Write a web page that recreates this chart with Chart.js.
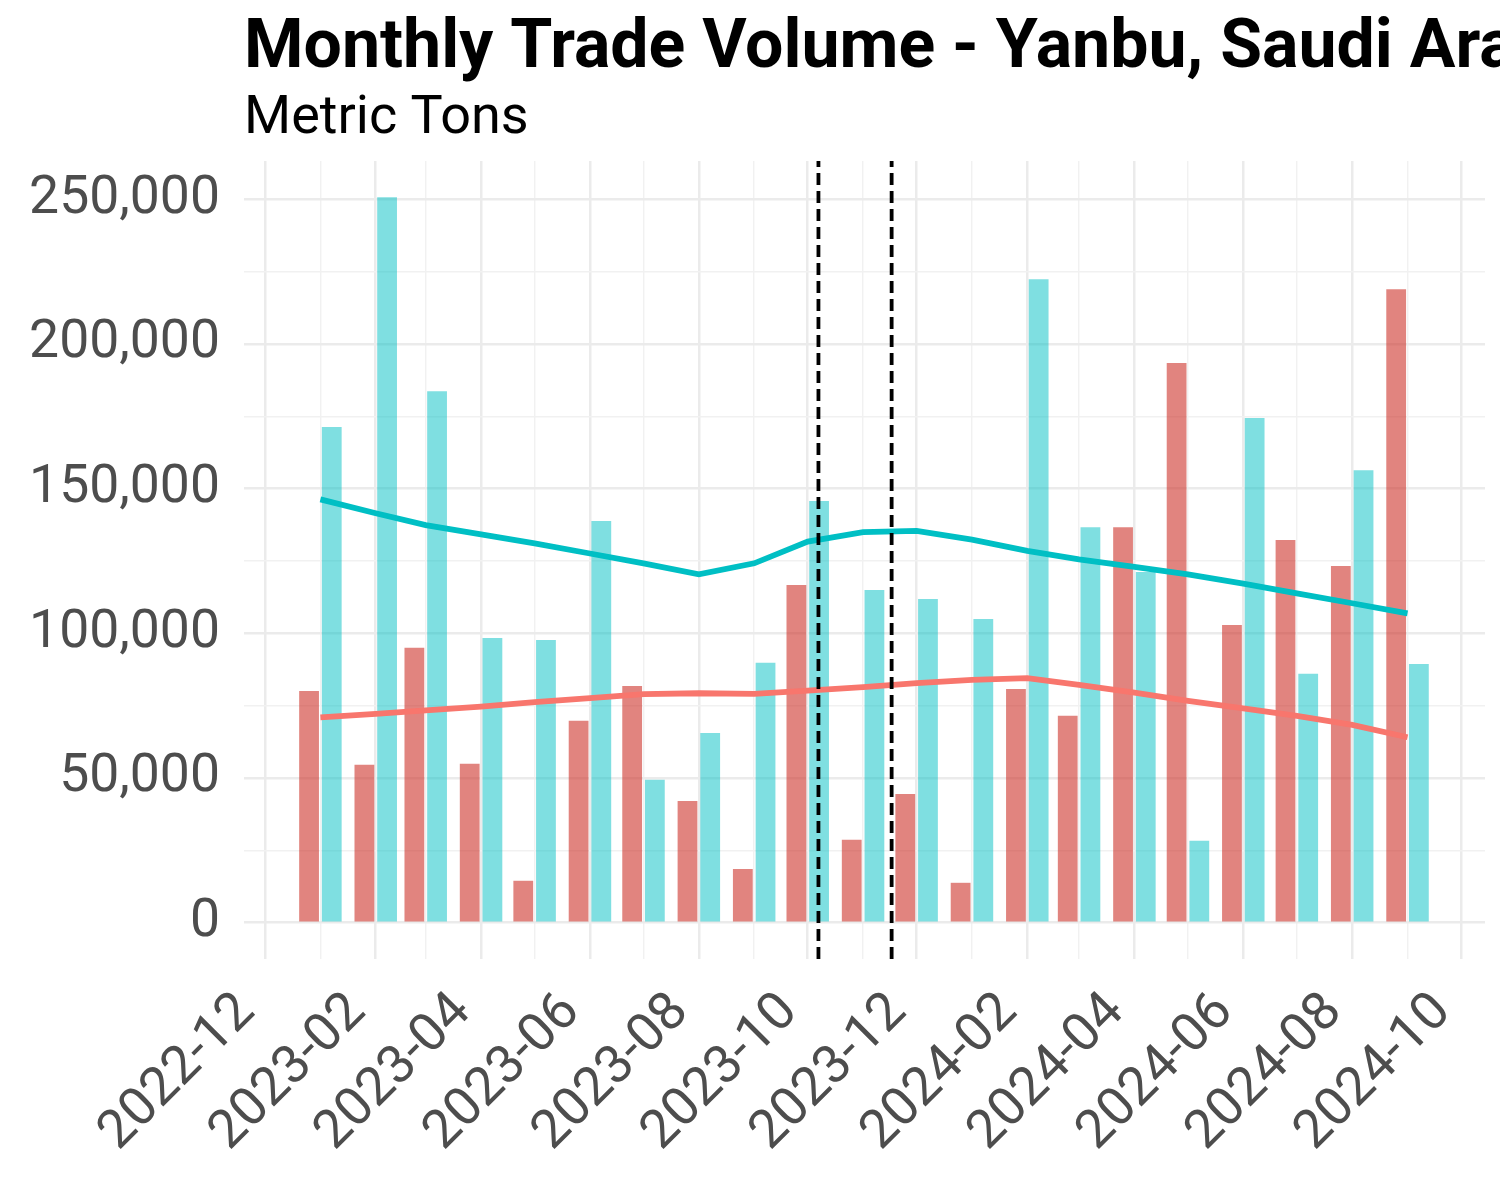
<!DOCTYPE html>
<html>
<head>
<meta charset="utf-8">
<title>Monthly Trade Volume - Yanbu</title>
<script src="https://cdn.jsdelivr.net/npm/chart.js"></script>
<style>
  html, body { margin: 0; padding: 0; background: #fff; }
  #chart { display: block; }
</style>
</head>
<body>
<canvas id="chart" width="1500" height="1200"></canvas>
<script>
const titleText = 'Monthly Trade Volume - Yanbu, Saudi Arabia';
const subtitleText = 'Metric Tons';

// one bar pair per month, dated on the 1st
const months = [
  '2023-01', '2023-02', '2023-03', '2023-04', '2023-05', '2023-06', '2023-07',
  '2023-08', '2023-09', '2023-10', '2023-11', '2023-12', '2024-01', '2024-02',
  '2024-03', '2024-04', '2024-05', '2024-06', '2024-07', '2024-08', '2024-09'
];
const exportTons = [
  80100, 54600, 95000, 54900, 14500, 69800, 81800,
  42100, 18600, 116700, 28700, 44500, 13800, 80800,
  71500, 136700, 193400, 102900, 132300, 123300, 218900
];
const importTons = [
  171300, 250700, 183700, 98400, 97700, 138800, 49400,
  65600, 89800, 145700, 115000, 111900, 105000, 222400,
  136700, 121200, 28300, 174400, 86000, 156400, 89400
];
// smoothed trend per month
const exportTrend = [
  71000, 72200, 73400, 74700, 76200, 77600, 79000,
  79300, 79100, 80200, 81400, 82800, 83900, 84500,
  82200, 79500, 76700, 74100, 71500, 68400, 64100
];
const importTrend = [
  146300, 141500, 137400, 134200, 131100, 127600, 124200,
  120400, 124200, 131700, 135000, 135400, 132400, 128500,
  125600, 123000, 120400, 117200, 113800, 110400, 106900
];
const eventDates = ['2023-10-07', '2023-11-17'];

const xTickLabels = [
  '2022-12', '2023-02', '2023-04', '2023-06', '2023-08', '2023-10',
  '2023-12', '2024-02', '2024-04', '2024-06', '2024-08', '2024-10'
];
const yTickLabels = [0, 50000, 100000, 150000, 200000, 250000];
const yLimits = [-12535, 263235];

const toDay = (s) => Date.UTC(+s.slice(0, 4), +s.slice(5, 7) - 1, s.length > 7 ? +s.slice(8, 10) : 1) / 864e5;
const toMonth = (d) => new Date(Math.round(d) * 864e5).toISOString().slice(0, 7);

const xMin = toDay('2022-12-01') - 11.8;
const xMax = toDay('2024-10-01') + 13.4;

const headingPlugin = {
  id: 'heading',
  afterDraw(chart) {
    const { ctx, chartArea } = chart;
    ctx.save();
    ctx.fillStyle = '#000000';
    ctx.textAlign = 'left';
    ctx.textBaseline = 'alphabetic';
    ctx.font = 'bold 68px Roboto';
    ctx.fillText(titleText, chartArea.left, 67);
    ctx.font = '54px Roboto';
    ctx.fillText(subtitleText, chartArea.left, 133);
    ctx.restore();
  }
};

const xMajor = (v) => xTickLabels.includes(toMonth(v));
const yMajor = (v) => yTickLabels.includes(v);

Chart.defaults.font.family = 'Roboto';

const eventLine = (d) => ({
  type: 'line',
  label: 'Event ' + d,
  data: [{ x: toDay(d), y: yLimits[0] }, { x: toDay(d), y: yLimits[1] }],
  borderColor: '#000000',
  borderWidth: 3.8,
  borderDash: [12, 6],
  pointRadius: 0,
  order: 0
});

new Chart(document.getElementById('chart'), {
  type: 'bar',
  data: {
    datasets: [
      ...eventDates.map(eventLine),
      {
        type: 'line',
        label: 'Export trend',
        data: months.map((m, i) => ({ x: toDay(m), y: exportTrend[i] })),
        borderColor: '#F8766D',
        borderWidth: 5.8,
        pointRadius: 0,
        tension: 0,
        order: 1
      },
      {
        type: 'line',
        label: 'Import trend',
        data: months.map((m, i) => ({ x: toDay(m), y: importTrend[i] })),
        borderColor: '#00BFC4',
        borderWidth: 5.8,
        pointRadius: 0,
        tension: 0,
        order: 1
      },
      {
        label: 'Export',
        data: months.map((m, i) => ({ x: toDay(m), y: exportTons[i] })),
        backgroundColor: 'rgba(205, 50, 42, 0.6)',
        categoryPercentage: 0.908,
        barPercentage: 0.872,
        order: 3
      },
      {
        label: 'Import',
        data: months.map((m, i) => ({ x: toDay(m), y: importTons[i] })),
        backgroundColor: 'rgba(0, 191, 196, 0.5)',
        categoryPercentage: 0.908,
        barPercentage: 0.872,
        order: 3
      }
    ]
  },
  options: {
    responsive: false,
    animation: false,
    events: [],
    layout: { padding: { top: 161, right: 15, left: 0, bottom: 0 } },
    plugins: {
      legend: { display: false },
      tooltip: { enabled: false },
      title: { display: false }
    },
    scales: {
      x: {
        type: 'linear',
        offset: false,
        min: xMin,
        max: xMax,
        afterBuildTicks: (scale) => {
          const ticks = [];
          for (let y = 2022, m = 11; y * 12 + m <= 2024 * 12 + 9; m++) {
            if (m > 11) { m = 0; y++; }
            ticks.push({ value: Date.UTC(y, m, 1) / 864e5 });
          }
          scale.ticks = ticks;
        },
        afterFit: (scale) => {
          scale.height = 241;
          scale.paddingLeft = 0;
          scale.paddingRight = 0;
        },
        border: { display: false },
        grid: {
          offset: false,
          drawTicks: false,
          color: (c) => (c.tick && xMajor(c.tick.value) ? '#EBEBEB' : '#F1F1F1'),
          lineWidth: (c) => (c.tick && xMajor(c.tick.value) ? 2.5 : 1.4)
        },
        ticks: {
          autoSkip: false,
          minRotation: 45,
          maxRotation: 45,
          padding: 22,
          labelOffset: -18,
          color: '#4D4D4D',
          font: { size: 53.5 },
          callback: (v) => (xMajor(v) ? toMonth(v) : '')
        }
      },
      y: {
        min: yLimits[0],
        max: yLimits[1],
        afterBuildTicks: (scale) => {
          const ticks = [];
          for (let v = 0; v <= 250000; v += 25000) ticks.push({ value: v });
          scale.ticks = ticks;
        },
        afterFit: (scale) => { scale.width = 244; },
        border: { display: false },
        grid: {
          drawTicks: false,
          color: (c) => (c.tick && yMajor(c.tick.value) ? '#EBEBEB' : '#F1F1F1'),
          lineWidth: (c) => (c.tick && yMajor(c.tick.value) ? 2.5 : 1.4)
        },
        ticks: {
          autoSkip: false,
          padding: 24,
          color: '#4D4D4D',
          font: { size: 53.5 },
          callback: (v) => (yMajor(v) ? v.toLocaleString('en-US') : '')
        }
      }
    }
  },
  plugins: [headingPlugin]
});
</script>
</body>
</html>
